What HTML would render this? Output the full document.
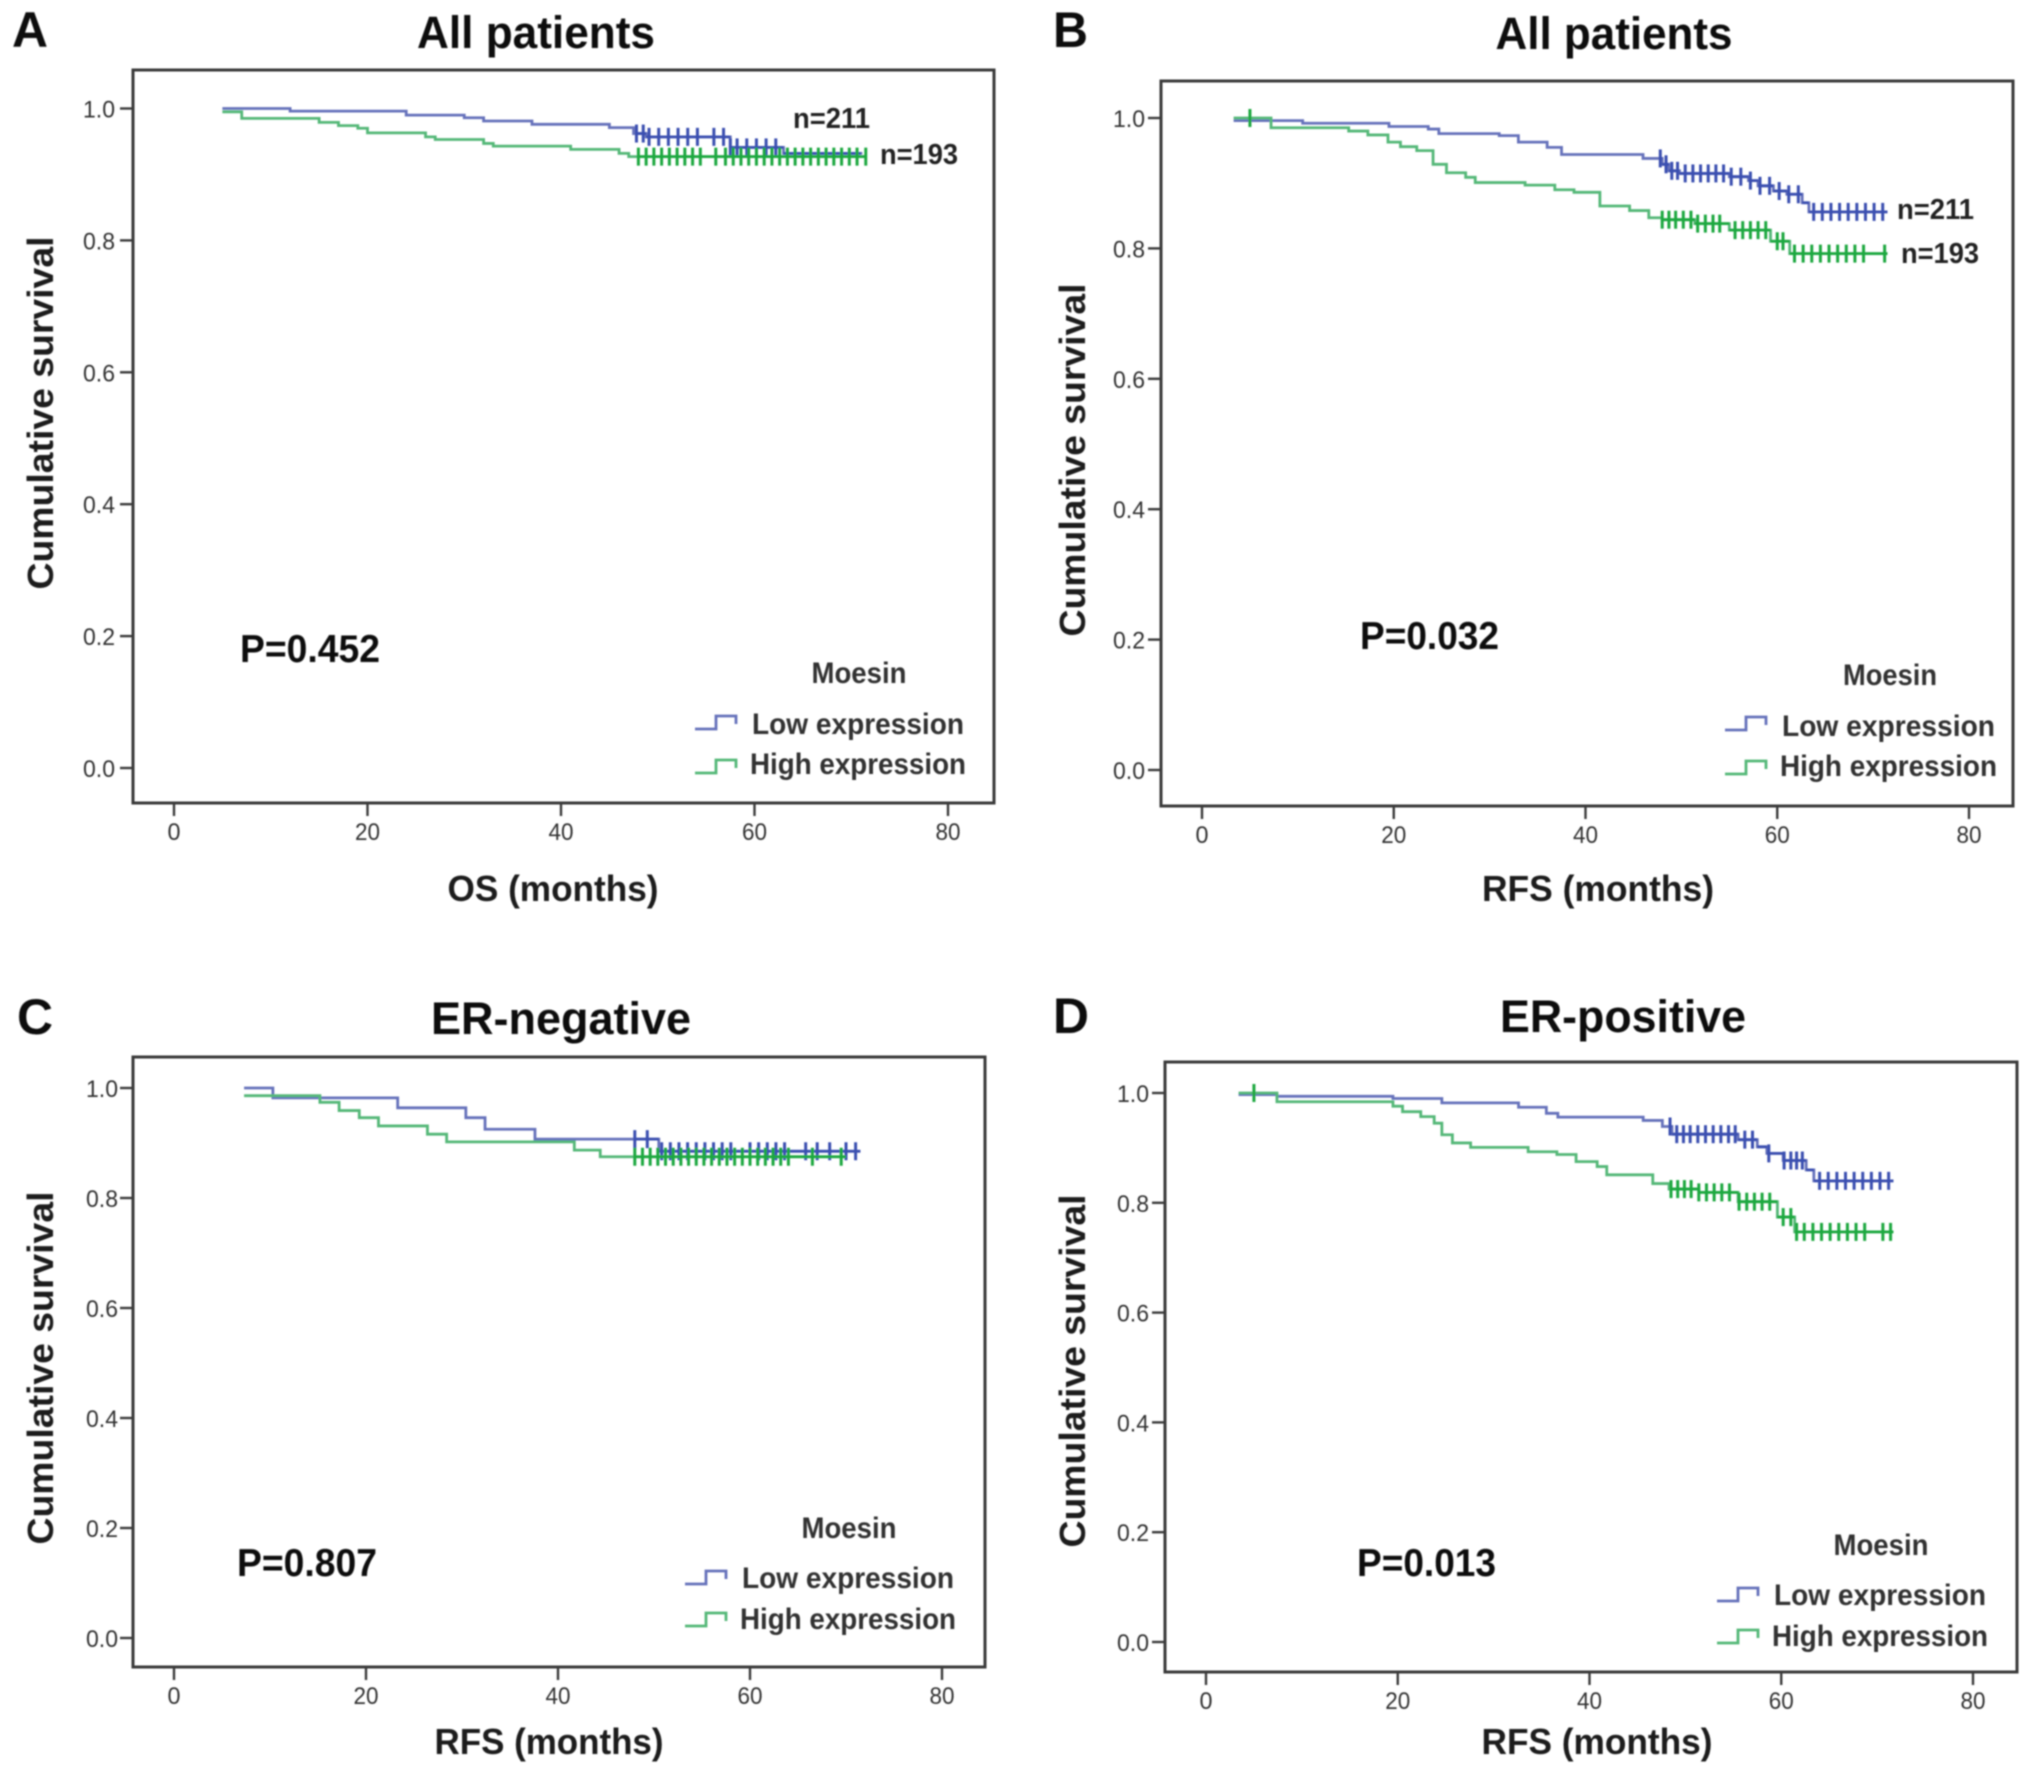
<!DOCTYPE html>
<html lang="en">
<head>
<meta charset="utf-8">
<title>Kaplan-Meier curves for Moesin expression</title>
<style>
html,body{margin:0;padding:0;background:#fff;}
svg{display:block;}
text{font-family:"Liberation Sans",sans-serif;fill:#1a1a1a;}
.b{font-weight:bold;}
.tick{font-size:24px;fill:#333;}
.letter{font-size:50px;font-weight:bold;fill:#111;}
.title{font-size:45px;font-weight:bold;fill:#111;}
.axt{font-size:36px;font-weight:bold;fill:#1a1a1a;}
.p{font-size:39px;font-weight:bold;fill:#111;}
.leg{font-size:30px;font-weight:bold;fill:#333;}
.n{font-size:29px;font-weight:bold;fill:#222;}
</style>
</head>
<body>
<svg id="figure" width="2031" height="1783" viewBox="0 0 2031 1783" xmlns="http://www.w3.org/2000/svg">
<defs><filter id="soft" x="-2%" y="-2%" width="104%" height="104%"><feGaussianBlur stdDeviation="0.8"/></filter></defs>
<rect width="2031" height="1783" fill="#fff"/>
<g id="root" filter="url(#soft)">
  <g id="marks"></g>

  <text class="letter" x="12" y="47" textLength="36" lengthAdjust="spacingAndGlyphs">A</text>
  <text class="title" x="536" y="48" text-anchor="middle" textLength="238" lengthAdjust="spacingAndGlyphs">All patients</text>
  <text class="axt" transform="translate(53,413) rotate(-90)" text-anchor="middle" textLength="353" lengthAdjust="spacingAndGlyphs">Cumulative survival</text>
  <text class="axt" x="553" y="901" text-anchor="middle" textLength="211" lengthAdjust="spacingAndGlyphs">OS (months)</text>
  <text class="p" x="240" y="662" textLength="140" lengthAdjust="spacingAndGlyphs">P=0.452</text>
  <text class="leg" x="859" y="683" text-anchor="middle" textLength="95" lengthAdjust="spacingAndGlyphs">Moesin</text>
  <text class="leg" x="752" y="734" textLength="212" lengthAdjust="spacingAndGlyphs">Low expression</text>
  <text class="leg" x="750" y="774" textLength="216" lengthAdjust="spacingAndGlyphs">High expression</text>
  <text class="n" x="793" y="128" textLength="77" lengthAdjust="spacingAndGlyphs">n=211</text>
  <text class="n" x="880" y="164" textLength="78" lengthAdjust="spacingAndGlyphs">n=193</text>

  <text class="letter" x="1053" y="47" textLength="35" lengthAdjust="spacingAndGlyphs">B</text>
  <text class="title" x="1614" y="49" text-anchor="middle" textLength="237" lengthAdjust="spacingAndGlyphs">All patients</text>
  <text class="axt" transform="translate(1085,460) rotate(-90)" text-anchor="middle" textLength="353" lengthAdjust="spacingAndGlyphs">Cumulative survival</text>
  <text class="axt" x="1598" y="901" text-anchor="middle" textLength="232" lengthAdjust="spacingAndGlyphs">RFS (months)</text>
  <text class="p" x="1360" y="649" textLength="139" lengthAdjust="spacingAndGlyphs">P=0.032</text>
  <text class="leg" x="1890" y="685" text-anchor="middle" textLength="94" lengthAdjust="spacingAndGlyphs">Moesin</text>
  <text class="leg" x="1782" y="736" textLength="213" lengthAdjust="spacingAndGlyphs">Low expression</text>
  <text class="leg" x="1780" y="776" textLength="217" lengthAdjust="spacingAndGlyphs">High expression</text>
  <text class="n" x="1897" y="219" textLength="77" lengthAdjust="spacingAndGlyphs">n=211</text>
  <text class="n" x="1901" y="263" textLength="78" lengthAdjust="spacingAndGlyphs">n=193</text>

  <text class="letter" x="17" y="1034" textLength="36" lengthAdjust="spacingAndGlyphs">C</text>
  <text class="title" x="561" y="1034" text-anchor="middle" textLength="260" lengthAdjust="spacingAndGlyphs">ER-negative</text>
  <text class="axt" transform="translate(53,1368) rotate(-90)" text-anchor="middle" textLength="353" lengthAdjust="spacingAndGlyphs">Cumulative survival</text>
  <text class="axt" x="549" y="1754" text-anchor="middle" textLength="229" lengthAdjust="spacingAndGlyphs">RFS (months)</text>
  <text class="p" x="237" y="1576" textLength="140" lengthAdjust="spacingAndGlyphs">P=0.807</text>
  <text class="leg" x="849" y="1538" text-anchor="middle" textLength="95" lengthAdjust="spacingAndGlyphs">Moesin</text>
  <text class="leg" x="742" y="1588" textLength="212" lengthAdjust="spacingAndGlyphs">Low expression</text>
  <text class="leg" x="740" y="1629" textLength="216" lengthAdjust="spacingAndGlyphs">High expression</text>

  <text class="letter" x="1053" y="1033" textLength="36" lengthAdjust="spacingAndGlyphs">D</text>
  <text class="title" x="1623" y="1032" text-anchor="middle" textLength="246" lengthAdjust="spacingAndGlyphs">ER-positive</text>
  <text class="axt" transform="translate(1085,1371) rotate(-90)" text-anchor="middle" textLength="353" lengthAdjust="spacingAndGlyphs">Cumulative survival</text>
  <text class="axt" x="1597" y="1754" text-anchor="middle" textLength="231" lengthAdjust="spacingAndGlyphs">RFS (months)</text>
  <text class="p" x="1357" y="1576" textLength="139" lengthAdjust="spacingAndGlyphs">P=0.013</text>
  <text class="leg" x="1881" y="1555" text-anchor="middle" textLength="95" lengthAdjust="spacingAndGlyphs">Moesin</text>
  <text class="leg" x="1774" y="1605" textLength="212" lengthAdjust="spacingAndGlyphs">Low expression</text>
  <text class="leg" x="1772" y="1646" textLength="216" lengthAdjust="spacingAndGlyphs">High expression</text>
</g>
</svg>
<script>
const xTickValues = [0, 20, 40, 60, 80];
const yTickValues = [0, 0.2, 0.4, 0.6, 0.8, 1.0];

const aLowTime = [5, 12, 24, 30, 32, 37, 45, 47.5, 48.8, 57.5, 63, 71];
const aLowSurv = [1.0, 0.996, 0.99, 0.986, 0.981, 0.976, 0.971, 0.962, 0.957, 0.941, 0.932, 0.93];
const aLowCensor = [47.8, 48.5, 49.1, 50.1, 51.1, 52.1, 53.1, 54.1, 55.8, 56.8, 57.5, 58.2, 59.2, 60.2, 61.2, 62.2];
const aHighTime = [5, 7, 15, 17, 19, 20, 26, 27, 32, 33, 41, 46, 47, 71.5];
const aHighSurv = [0.995, 0.985, 0.979, 0.974, 0.97, 0.963, 0.957, 0.953, 0.947, 0.943, 0.938, 0.932, 0.927, 0.927];
const aHighCensor = [48, 48.8, 49.6, 50.4, 51.2, 52, 52.8, 53.6, 54.4, 56, 57, 57.8, 58.6, 59.4, 60.2, 61, 61.8, 62.6, 63.4, 64.2, 65, 65.8, 66.6, 67.4, 68.2, 69, 69.8, 70.6, 71.5];

const bLowTime = [3.3, 10.5, 19.5, 23.6, 24.7, 31, 33, 36, 37.5, 46, 48, 48.7, 49.8, 55, 57, 58, 59.6, 61, 62.6, 63.3, 71.5];
const bLowSurv = [0.996, 0.992, 0.987, 0.983, 0.976, 0.973, 0.963, 0.955, 0.944, 0.938, 0.929, 0.919, 0.915, 0.91, 0.904, 0.896, 0.888, 0.883, 0.87, 0.856, 0.856];
const bLowCensor = [47.8, 48.4, 49, 49.6, 50.4, 51.2, 52, 52.8, 53.6, 54.4, 55.2, 56.2, 57.2, 58.2, 59.2, 60.2, 61.2, 62.2, 63.8, 64.7, 65.6, 66.5, 67.4, 68.3, 69.2, 70.1, 71];
const bHighTime = [3.3, 7.2, 15.3, 17.3, 19.4, 20.7, 22.4, 24.1, 25.5, 27.5, 28.5, 33.7, 36.8, 38.8, 41.5, 44.6, 46.6, 48, 51.4, 55, 59.3, 61.3, 71.5];
const bHighSurv = [1.0, 0.985, 0.98, 0.974, 0.963, 0.956, 0.95, 0.929, 0.916, 0.909, 0.901, 0.897, 0.89, 0.886, 0.865, 0.858, 0.847, 0.844, 0.838, 0.828, 0.811, 0.792, 0.792];
const bHighCensor = [5, 48, 48.7, 49.4, 50.2, 51, 51.7, 52.5, 53.3, 54, 55.6, 56.4, 57.2, 58, 58.8, 60, 60.6, 61.8, 62.7, 63.6, 64.5, 65.4, 66.3, 67.2, 68.1, 69, 71.2];

const cLowTime = [7.3, 10.3, 23.3, 30.4, 32.4, 37.6, 50.5, 71.5];
const cLowSurv = [1.0, 0.982, 0.964, 0.946, 0.925, 0.907, 0.885, 0.885];
const cLowCensor = [48, 49.3, 50.8, 51.7, 52.6, 53.5, 54.4, 55.3, 56.2, 57.1, 58, 60, 60.9, 61.8, 62.7, 63.6, 65.8, 67, 68.3, 70, 71];
const cHighTime = [7.3, 15.2, 17.2, 19.3, 21.3, 26.4, 28.4, 41.7, 44.4, 70];
const cHighSurv = [0.986, 0.974, 0.959, 0.946, 0.931, 0.916, 0.902, 0.887, 0.875, 0.875];
const cHighCensor = [48, 48.8, 49.6, 50.4, 51.2, 52, 52.8, 53.6, 54.4, 55.2, 56, 56.8, 57.6, 58.4, 59.2, 60, 60.8, 61.6, 62.4, 63.2, 64, 66.5, 69.5];

const dLowTime = [3.4, 7.4, 19.5, 24.6, 32.6, 35.5, 36.7, 45.6, 47.6, 48.6, 55.5, 57.5, 58.5, 60.2, 62.6, 63.4, 71.7];
const dLowSurv = [0.997, 0.994, 0.99, 0.982, 0.974, 0.963, 0.956, 0.95, 0.939, 0.925, 0.915, 0.902, 0.89, 0.877, 0.86, 0.84, 0.84];
const dLowCensor = [48.4, 49.1, 49.8, 50.5, 51.3, 52.1, 52.9, 53.7, 54.5, 55.2, 56.2, 57, 58.7, 60.3, 61, 61.6, 62.2, 64, 64.9, 65.8, 66.7, 67.6, 68.5, 69.4, 70.3, 71.2];
const dHighTime = [3.4, 7.4, 19.5, 20.5, 22.4, 23.8, 24.6, 25.7, 27.6, 33.6, 36.6, 38.6, 40.8, 41.8, 46.6, 48.3, 51.4, 55.5, 59.6, 61.4, 71.7];
const dHighSurv = [1.0, 0.984, 0.976, 0.966, 0.957, 0.945, 0.924, 0.909, 0.901, 0.893, 0.888, 0.875, 0.866, 0.851, 0.835, 0.825, 0.819, 0.802, 0.774, 0.747, 0.747];
const dHighCensor = [5, 48.5, 49.2, 49.9, 50.6, 51.4, 52.2, 53, 53.8, 54.6, 55.6, 56.4, 57.2, 58, 58.8, 60.2, 61, 61.6, 62.4, 63.3, 64.2, 65.1, 66, 66.9, 67.8, 68.7, 70.6, 71.4];

const panels = [
  {key:'a', left:133, right:994, top:70, bottom:803, x0:174, x80:948, y0:768, y1:108.5, gap:18, glyph:695, glyphLow:729, glyphHigh:773,
   lowT:aLowTime, lowS:aLowSurv, lowC:aLowCensor, highT:aHighTime, highS:aHighSurv, highC:aHighCensor},
  {key:'b', left:1161, right:2013, top:81, bottom:806, x0:1202, x80:1969, y0:770, y1:118, gap:16, glyph:1725, glyphLow:730, glyphHigh:774,
   lowT:bLowTime, lowS:bLowSurv, lowC:bLowCensor, highT:bHighTime, highS:bHighSurv, highC:bHighCensor},
  {key:'c', left:133, right:985, top:1057, bottom:1667, x0:174, x80:942, y0:1638, y1:1088, gap:15, glyph:685, glyphLow:1584, glyphHigh:1626,
   lowT:cLowTime, lowS:cLowSurv, lowC:cLowCensor, highT:cHighTime, highS:cHighSurv, highC:cHighCensor},
  {key:'d', left:1165, right:2017, top:1062, bottom:1672, x0:1206, x80:1973, y0:1642, y1:1093, gap:16, glyph:1717, glyphLow:1601, glyphHigh:1643,
   lowT:dLowTime, lowS:dLowSurv, lowC:dLowCensor, highT:dHighTime, highS:dHighSurv, highC:dHighCensor}
];

const NS = 'http://www.w3.org/2000/svg';
const marks = document.getElementById('marks');
const LOW_LINE = '#6672bb', HIGH_LINE = '#55b878', LOW_CENSOR = '#3a4fb0', HIGH_CENSOR = '#1fa83f', AXIS = '#3a3a3a';

function svgEl(tag, parent) {
  const el = document.createElementNS(NS, tag);
  parent.appendChild(el);
  return el;
}
function stepAt(times, surv, t) {
  let s = surv[0];
  for (let i = 0; i < times.length; i++) { if (times[i] <= t) s = surv[i]; }
  return s;
}
function stepPath(times, surv, sx, sy) {
  let d = 'M' + sx(times[0]) + ' ' + sy(surv[0]);
  for (let i = 1; i < times.length; i++) {
    d += 'H' + sx(times[i]) + 'V' + sy(surv[i]);
  }
  return d;
}
function drawSeries(g, times, surv, censors, sx, sy, lineColor, censorColor) {
  const line = svgEl('path', g);
  
  
  line.setAttribute('d', stepPath(times, surv, sx, sy));
  line.setAttribute('fill', 'none');
  line.setAttribute('stroke', lineColor);
  line.setAttribute('stroke-width', '2.8');
  censors.forEach(function (t) {
    const c = svgEl('line', g);
    
    
    const cx = sx(t), cy = sy(stepAt(times, surv, t));
    c.setAttribute('x1', cx);
    c.setAttribute('x2', cx);
    c.setAttribute('y1', cy - 9);
    c.setAttribute('y2', cy + 9);
    c.setAttribute('stroke', censorColor);
    c.setAttribute('stroke-width', '3');
  });
  const band = svgEl('path', g);
  
  
  const from = censors.length > 1 && censors[0] < 10 ? censors[1] : censors[0];
  const to = times[times.length - 1];
  let d = '';
  times.forEach(function (t, i) {
    if (i === times.length - 1) return;
    const a = Math.max(t, from), b = Math.min(times[i + 1], to);
    if (b > a) d += 'M' + sx(a) + ' ' + sy(surv[i]) + 'H' + sx(b);
  });
  band.setAttribute('d', d);
  band.setAttribute('fill', 'none');
  band.setAttribute('stroke', censorColor);
  band.setAttribute('stroke-width', '2.8');
}
function legendGlyph(g, p, base, color) {
  const s = svgEl('path', g);
  
  
  s.setAttribute('d', 'M' + p.glyph + ' ' + base + 'h21v-13h20v8');
  s.setAttribute('fill', 'none');
  s.setAttribute('stroke', color);
  s.setAttribute('stroke-width', '2.8');
}

panels.forEach(function (p) {
  const sx = function (t) { return p.x0 + t * (p.x80 - p.x0) / 80; };
  const sy = function (v) { return p.y0 + v * (p.y1 - p.y0); };
  const g = svgEl('g', marks);
  
  

  const frame = svgEl('rect', g);
  
  
  frame.setAttribute('x', p.left);
  frame.setAttribute('y', p.top);
  frame.setAttribute('width', p.right - p.left);
  frame.setAttribute('height', p.bottom - p.top);
  frame.setAttribute('fill', 'none');
  frame.setAttribute('stroke', AXIS);
  frame.setAttribute('stroke-width', '3');

  xTickValues.forEach(function (v) {
    const t = svgEl('line', g);
    
    
    t.setAttribute('x1', sx(v));
    t.setAttribute('x2', sx(v));
    t.setAttribute('y1', p.bottom);
    t.setAttribute('y2', p.bottom + 13);
    t.setAttribute('stroke', AXIS);
    t.setAttribute('stroke-width', '2.4');
    const l = svgEl('text', g);
    
    
    l.setAttribute('class', 'tick');
    l.setAttribute('x', sx(v));
    l.setAttribute('y', p.bottom + 37);
    l.setAttribute('text-anchor', 'middle');
    l.setAttribute('textLength', v === 0 ? '13' : '25');
    l.setAttribute('lengthAdjust', 'spacingAndGlyphs');
    l.textContent = String(v);
  });
  yTickValues.forEach(function (v) {
    const t = svgEl('line', g);
    
    
    t.setAttribute('x1', p.left - 13);
    t.setAttribute('x2', p.left);
    t.setAttribute('y1', sy(v));
    t.setAttribute('y2', sy(v));
    t.setAttribute('stroke', AXIS);
    t.setAttribute('stroke-width', '2.4');
    const l = svgEl('text', g);
    
    
    l.setAttribute('class', 'tick');
    l.setAttribute('x', p.left - p.gap);
    l.setAttribute('y', sy(v) + 9);
    l.setAttribute('text-anchor', 'end');
    l.setAttribute('textLength', '32');
    l.setAttribute('lengthAdjust', 'spacingAndGlyphs');
    l.textContent = v.toFixed(1);
  });

  drawSeries(g, p.lowT, p.lowS, p.lowC, sx, sy, LOW_LINE, LOW_CENSOR);
  drawSeries(g, p.highT, p.highS, p.highC, sx, sy, HIGH_LINE, HIGH_CENSOR);
  legendGlyph(g, p, p.glyphLow, LOW_LINE);
  legendGlyph(g, p, p.glyphHigh, HIGH_LINE);
});
</script>
</body>
</html>
